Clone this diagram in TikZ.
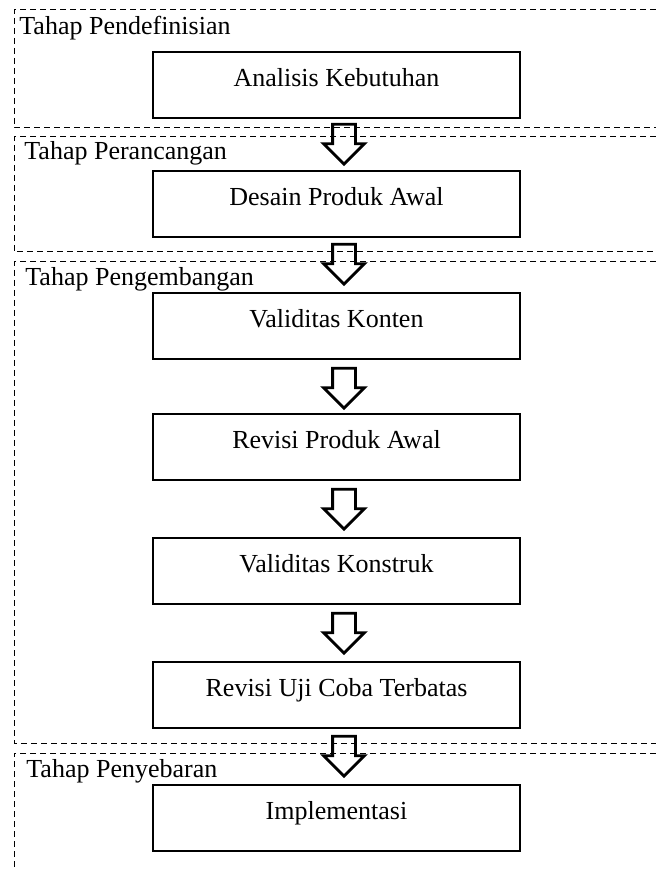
\documentclass[tikz,border=0pt]{standalone}
\usepackage{fontspec}
\setmainfont{Liberation Serif}
\usetikzlibrary{positioning,
        shapes,
        calc}

\begin{document}
\begin{tikzpicture}[x=0.5pt,y=-0.5pt,
        kotak/.style={rectangle,draw,line width=0.8pt,minimum width=183.5pt,minimum height=33pt,text height=9pt,text depth=7.4pt,font=\fontsize{13}{15}\selectfont},
        tahap/.style={anchor=base west,inner sep=0pt,font=\fontsize{13}{15}\selectfont},
        bingkai/.style={line width=0.5pt,dash pattern=on 3pt off 2pt},
        panah/.style={single arrow,draw,line width=1.4pt,anchor=tail,xshift=3.75pt,rotate=-90,minimum height=20pt,inner sep=5pt,single arrow head extend=4.5pt}]
            \useasboundingbox (0,0) rectangle (656,870);

            % bingkai tiap tahap
            \draw[bingkai] (656,10) -- (14,10) -- (14,128) -- (656,128);
            \draw[bingkai] (656,137) -- (14,137) -- (14,252) -- (656,252);
            \draw[bingkai] (656,262) -- (14,262) -- (14,743) -- (656,743);
            \draw[bingkai] (656,753) -- (14,753) -- (14,870);

            \node[tahap] (t1) at (19,35) {Tahap Pendefinisian};
            \node[tahap] (t2) at (24,160) {Tahap Perancangan};
            \node[tahap] (t3) at (25,286) {Tahap Pengembangan};
            \node[tahap] (t4) at (26,777) {Tahap Penyebaran};

            \node[kotak] (analisis) at (336.5,85) {Analisis Kebutuhan};
            \node[kotak] (desain) at (336.5,204) {Desain Produk Awal};
            \node[kotak] (konten) at (336.5,326) {Validitas Konten};
            \node[kotak] (revisi) at (336.5,447) {Revisi Produk Awal};
            \node[kotak] (konstruk) at (336.5,571) {Validitas Konstruk};
            \node[kotak] (ujicoba) at (336.5,695) {Revisi Uji Coba Terbatas};
            \node[kotak] (implementasi) at (336.5,818) {Implementasi};

            % panah blok
            \node[panah] (p1) at ($(analisis.south)+(0,4)$) {};
            \node[panah] (p2) at ($(desain.south)+(0,5)$) {};
            \node[panah] (p3) at ($(konten.south)+(0,7)$) {};
            \node[panah] (p4) at ($(revisi.south)+(0,7)$) {};
            \node[panah] (p5) at ($(konstruk.south)+(0,7)$) {};
            \node[panah] (p6) at ($(ujicoba.south)+(0,6)$) {};
        \end{tikzpicture}
\end{document}
